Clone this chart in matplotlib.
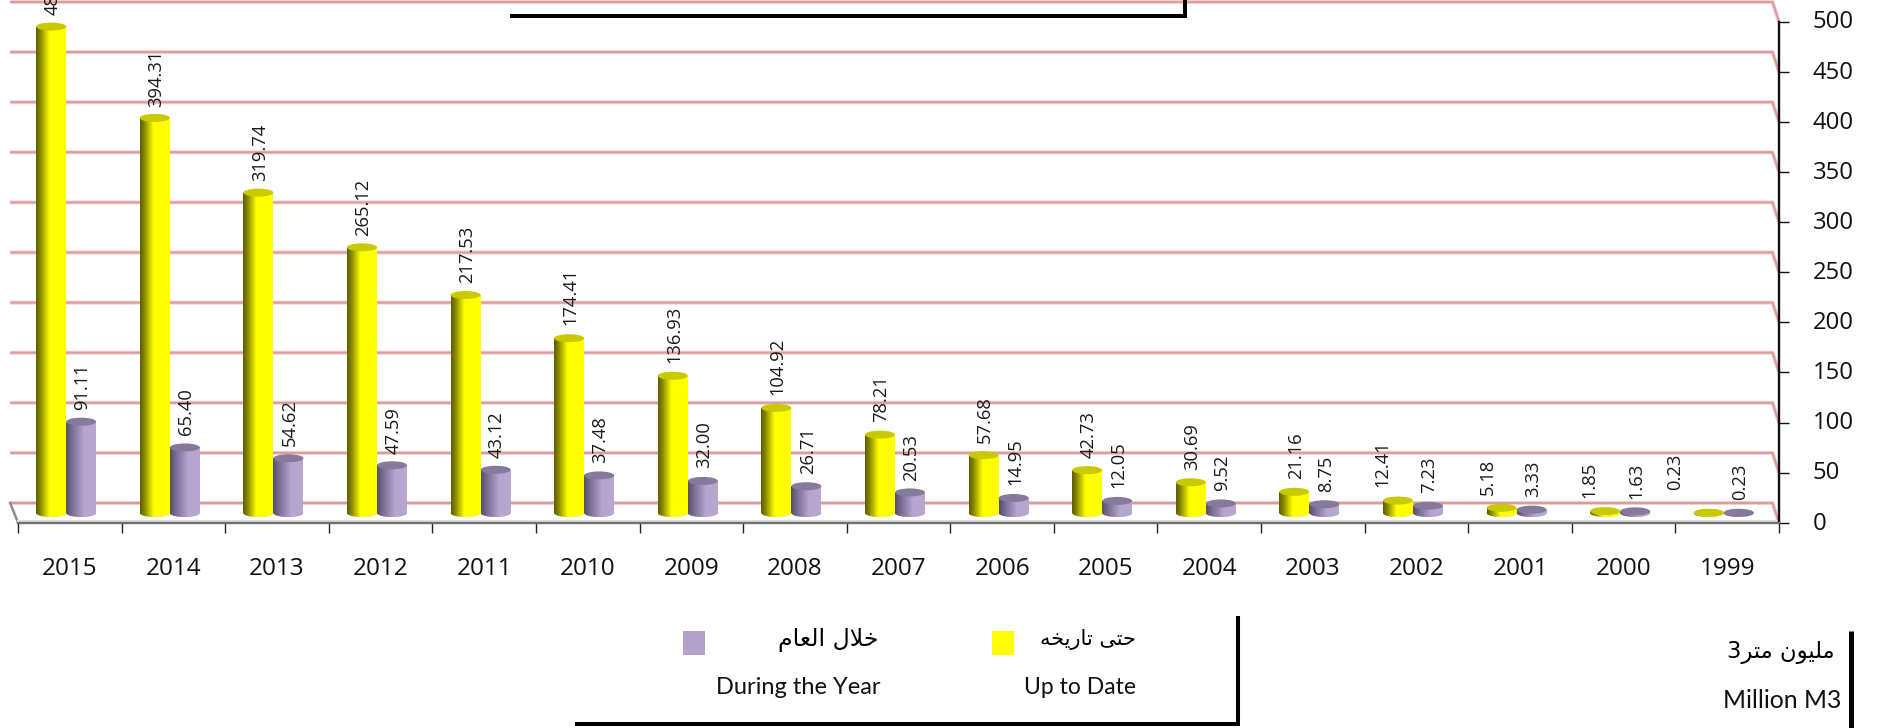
import numpy as np
import matplotlib
matplotlib.use("Agg")
import matplotlib.pyplot as plt
from matplotlib.patches import Ellipse, Rectangle
from matplotlib.colors import LinearSegmentedColormap
from matplotlib.ticker import FixedLocator, NullFormatter
from matplotlib.transforms import ScaledTranslation

# ---------- data ----------
years = ["2015", "2014", "2013", "2012", "2011", "2010", "2009", "2008", "2007",
         "2006", "2005", "2004", "2003", "2002", "2001", "2000", "1999"]
up_to_date = [485.42, 394.31, 319.74, 265.12, 217.53, 174.41, 136.93, 104.92, 78.21,
              57.68, 42.73, 30.69, 21.16, 12.41, 5.18, 1.85, 0.23]
during_year = [91.11, 65.40, 54.62, 47.59, 43.12, 37.48, 32.00, 26.71, 20.53,
               14.95, 12.05, 9.52, 8.75, 7.23, 3.33, 1.63, 0.23]
y_ticks = [0, 50, 100, 150, 200, 250, 300, 350, 400, 450, 500]

# ---------- layout (pixels of the 1879x728 canvas) ----------
W, H = 1879, 728
SLOT = 103.6
X0 = 69.8        # pixel centre of the first category
Y0 = 522.7       # pixel of value 0 on the front axis
PY = 1.002       # pixels per unit
BASE = 9.7       # bars stand on the floor, above the front axis
BAR_W = 30 / SLOT
CAP_H = 8 / PY
DX_BACK = -6.5 / SLOT
DY_BACK = 19.7 / PY

# lift of each value label above its bar top, in pixels
gap_yellow = [11.3, 10.7, 11.3, 11.3, 11.7, 13, 13, 12.7, 12.3, 11.7, 11.7, 12, 12.3, 13.3, 12.7, 13, 23]
gap_purple = [12, 12.7, 12.3, 11.7, 11.7, 12.3, 12.7, 12.3, 11.7, 12.7, 13.3, 12.3, 12.3, 12.7, 12.3, 12.3, 12.3]
# sideways shift of the few displaced yellow labels, in pixels
shift_yellow = [0, 0, 0, 0, 0, 0, 0, 0, 0, 0, 0, 0, 0, -17, -15.3, -17.3, -35]

def shape(s):
    """Small Arabic shaper: logical string -> presentation forms in visual order."""
    forms = {'ا': (0xFE8D, 0xFE8E), 'ر': (0xFEAD, 0xFEAE), 'و': (0xFEED, 0xFEEE),
             'ى': (0xFEEF, 0xFEF0),
             'ت': (0xFE95, 0xFE96, 0xFE97, 0xFE98), 'ح': (0xFEA1, 0xFEA2, 0xFEA3, 0xFEA4),
             'خ': (0xFEA5, 0xFEA6, 0xFEA7, 0xFEA8), 'ع': (0xFEC9, 0xFECA, 0xFECB, 0xFECC),
             'ل': (0xFEDD, 0xFEDE, 0xFEDF, 0xFEE0), 'م': (0xFEE1, 0xFEE2, 0xFEE3, 0xFEE4),
             'ن': (0xFEE5, 0xFEE6, 0xFEE7, 0xFEE8), 'ه': (0xFEE9, 0xFEEA, 0xFEEB, 0xFEEC),
             'ي': (0xFEF1, 0xFEF2, 0xFEF3, 0xFEF4)}
    out = []
    i = 0
    while i < len(s):
        c = s[i]
        if c not in forms:
            out.append(c)
            i += 1
            continue
        prev = s[i - 1] if i else ''
        joined_prev = prev in forms and len(forms[prev]) == 4
        if c == 'ل' and i + 1 < len(s) and s[i + 1] == 'ا':
            out.append(chr(0xFEFC if joined_prev else 0xFEFB))
            i += 2
            continue
        nxt = s[i + 1] if i + 1 < len(s) else ''
        f = forms[c]
        joins_next = len(f) == 4 and nxt in forms
        if joined_prev and joins_next:
            out.append(chr(f[3]))
        elif joined_prev:
            out.append(chr(f[1]))
        elif joins_next:
            out.append(chr(f[2]))
        else:
            out.append(chr(f[0]))
        i += 1
    return ''.join(reversed(out))

plt.rcParams['font.family'] = ['Open Sans', 'DejaVu Sans']
fig = plt.figure(figsize=(W / 100, H / 100), dpi=100, facecolor='white')
ax = fig.add_axes([0, 0, 1, 1])

yellow_cm = LinearSegmentedColormap.from_list('y', [(0, '#5f5f00'), (0.12, '#7f7f00'), (0.45, '#ffff00'), (1, '#ffff00')])
purple_cm = LinearSegmentedColormap.from_list('p', [(0, '#575068'), (0.15, '#70668a'), (0.6, '#b5a5cf'), (1, '#b8a8d0')])
grad = np.linspace(0, 1, 64).reshape(1, -1)

def cylinder(x, val, cmap, cap, rim):
    bars = ax.bar(x, val, bottom=BASE, width=BAR_W, color='none', linewidth=0, zorder=3)
    rect = bars[0]
    foot = Ellipse((x, BASE), BAR_W, CAP_H, facecolor=rim, linewidth=0, zorder=3)
    ax.add_patch(foot)
    for clip in (rect, foot):
        if clip is rect and val < 1:
            continue
        im = ax.imshow(grad, cmap=cmap, aspect='auto', zorder=3.1,
                       extent=(x - BAR_W / 2, x + BAR_W / 2, BASE - CAP_H, BASE + val))
        im.set_clip_path(clip)
    ax.add_patch(Ellipse((x, BASE + val), BAR_W, CAP_H, facecolor=cap, linewidth=0, zorder=3.2))

# back-wall grid
right_x = len(years) - 1 + (1779 - X0 - 16 * SLOT) / SLOT
left_x = (18 - X0) / SLOT
for t in y_ticks:
    xs = [left_x + DX_BACK * 1.2, right_x + DX_BACK, right_x]
    ys = [t + DY_BACK, t + DY_BACK, t]
    ax.plot(xs, ys, color='#efd4d4', lw=2.9, zorder=1, solid_capstyle='butt', solid_joinstyle='miter')
    ax.plot(xs, ys, color='#db9c9c', lw=1.5, zorder=1.1, solid_capstyle='butt', solid_joinstyle='miter')

# floor edge
ax.plot([left_x + DX_BACK * 1.2, left_x], [DY_BACK, 0], color='#8c8c8c', lw=1.8, zorder=1.2)
ax.plot([left_x, right_x], [1.6, 1.6], color='#dddddd', lw=1.5, zorder=1.2)

# bars
for i, (a, b) in enumerate(zip(up_to_date, during_year)):
    cylinder(i - 0.145 - 0.035, a, yellow_cm, '#c9c900', '#d8d800')
    cylinder(i + 0.145 - 0.035, b, purple_cm, '#85799c', '#c4b8d8')
    ax.annotate(f"{a:.2f}", (i - 0.18, BASE + a),
                xytext=((shift_yellow[i] + 1.5) * 0.72, gap_yellow[i] * 0.72), textcoords='offset points',
                rotation=90, ha='center', va='bottom', fontsize=13.2, color='#1a1a1a',
                zorder=5, annotation_clip=False)
    ax.annotate(f"{b:.2f}", (i + 0.11, BASE + b),
                xytext=(1.0, gap_purple[i] * 0.72), textcoords='offset points',
                rotation=90, ha='center', va='bottom', fontsize=13.2, color='#1a1a1a',
                zorder=5, annotation_clip=False)

# axes
ax.set_xlim(-X0 / SLOT, (W - X0) / SLOT)
ax.set_ylim((Y0 - H) / PY, Y0 / PY)
for s in ('top', 'left'):
    ax.spines[s].set_visible(False)
ax.patch.set_alpha(0)
ax.spines['bottom'].set_position(('data', 0))
ax.spines['bottom'].set_bounds(left_x, right_x)
ax.spines['bottom'].set_color('#707070')
ax.spines['bottom'].set_linewidth(1.7)
ax.spines['right'].set_position(('data', right_x))
ax.spines['right'].set_bounds(0, 500)
ax.spines['right'].set_color('#111111')
ax.spines['right'].set_linewidth(1.7)
ax.yaxis.tick_right()
ax.set_yticks(y_ticks)
ax.tick_params(axis='y', direction='out', length=7.2, width=1, pad=17, labelsize=17.2,
               labelcolor='#111111', color='#111111')
up = ScaledTranslation(0, 2.2 / 100, fig.dpi_scale_trans)
for lab in ax.get_yticklabels():
    lab.set_transform(lab.get_transform() + up)
ax.set_xticks(range(len(years)))
ax.set_xticklabels(years)
ax.tick_params(axis='x', which='major', length=0, pad=24.6, labelsize=17.5, labelcolor='#111111')
ax.xaxis.set_minor_locator(FixedLocator([left_x + k * (right_x - left_x) / 17 for k in range(18)]))
ax.xaxis.set_minor_formatter(NullFormatter())
ax.tick_params(axis='x', which='minor', direction='out', length=7.2, width=1, color='#222222')

# decoration in figure pixels
def px(x, y):
    return x / W, 1 - y / H

def fline(x, y, lw=2.9, color='#000000'):
    fig.add_artist(plt.Line2D([v / W for v in x], [1 - v / H for v in y], color=color, lw=lw,
                              solid_capstyle='butt', solid_joinstyle='miter'))

fline([510, 1185, 1185], [15.5, 15.5, 0])
fline([575, 1238, 1238], [724, 724, 616])
fline([1851, 1851], [631, 728], lw=3.6)

for x0, col in ((683, '#b3a2cb'), (992, '#ffff00')):
    fig.add_artist(Rectangle(px(x0, 655), 22 / W, 24 / H, transform=fig.transFigure,
                             facecolor=col, edgecolor='none'))

arabic = dict(family=['DejaVu Sans'], ha='right', va='center', color='#000000')
latin = dict(family=['Lato'], ha='right', va='center', color='#111111')
fig.text(*px(878, 640), shape('خلال العام'), fontsize=17, **arabic)
fig.text(*px(1136, 640), shape('حتى تاريخه'), fontsize=15, **arabic)
fig.text(*px(1835, 653), '3' + shape('مليون متر'), fontsize=16.3, **arabic)
fig.text(*px(880, 688), 'During the Year', fontsize=17, **latin)
fig.text(*px(1136, 688), 'Up to Date', fontsize=16.5, **latin)
fig.text(*px(1841, 700), 'Million M3', fontsize=17.8, **latin)

fig.savefig('out.png', dpi=100, facecolor='white')
